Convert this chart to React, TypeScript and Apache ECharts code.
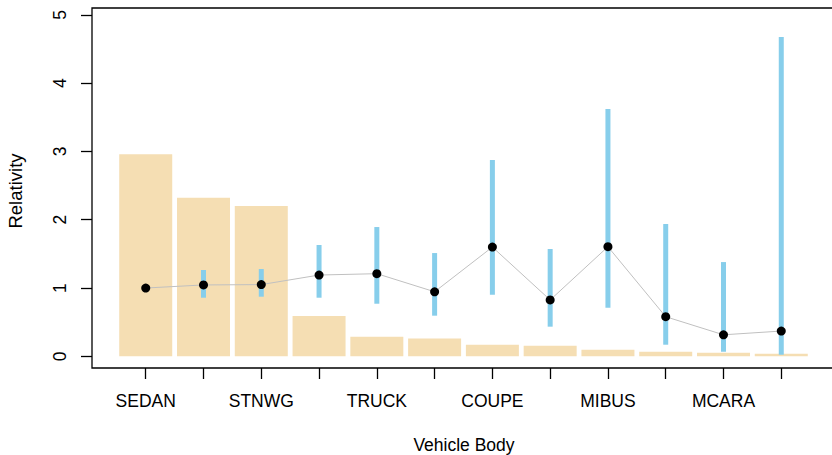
import React, { useEffect, useRef } from "react";
import * as echarts from "echarts";

const categories = ["SEDAN", "HBACK", "STNWG", "UTE", "TRUCK", "HDTOP", "COUPE", "PANVN", "MIBUS", "CONVT", "MCARA", "BUS"];
const exposureBars = [2.96, 2.32, 2.2, 0.59, 0.285, 0.26, 0.17, 0.155, 0.097, 0.067, 0.053, 0.038];
const relativity = [1.0, 1.045, 1.05, 1.19, 1.21, 0.945, 1.6, 0.825, 1.605, 0.58, 0.315, 0.37];
const ciLower = [null, 0.858, 0.873, 0.858, 0.77, 0.595, 0.9, 0.434, 0.712, 0.17, 0.067, 0.023];
const ciUpper = [null, 1.264, 1.278, 1.63, 1.893, 1.512, 2.875, 1.571, 3.62, 1.937, 1.38, 4.675];
const yTicks = [0, 1, 2, 3, 4, 5];
const xTitle = "Vehicle Body";
const yTitle = "Relativity";

const FONT = "Liberation Sans, Arial, Helvetica, sans-serif";

export default function App() {
  const ref = useRef<HTMLDivElement>(null);
  useEffect(() => {
    if (!ref.current) return;
    const chart = echarts.init(ref.current, null, { renderer: "svg" });
    const idx = categories.map((_, i) => i);
    chart.setOption({
      animation: false,
      backgroundColor: "#ffffff",
      grid: {
        left: 92,
        top: 8,
        right: -3,
        bottom: 87,
        containLabel: false,
        outerBoundsMode: "none",
        show: true,
        borderColor: "#000",
        borderWidth: 1.3,
        backgroundColor: "transparent",
      },
      graphic: [
        {
          type: "text",
          x: 464,
          y: 444.8,
          style: { text: xTitle, fontFamily: FONT, fontSize: 17.5, fill: "#000", align: "center", verticalAlign: "middle" },
        },
        {
          type: "text",
          x: 15,
          y: 191,
          rotation: Math.PI / 2,
          style: { text: yTitle, fontFamily: FONT, fontSize: 18.5, fill: "#000", align: "center", verticalAlign: "middle" },
        },
      ],
      xAxis: {
        type: "value",
        min: -0.93,
        max: 11.93,
        axisLine: { show: false, onZero: false },
        splitLine: { show: false },
        axisTick: { show: true, length: 11, lineStyle: { color: "#000", width: 1.3 }, customValues: idx },
        axisLabel: {
          show: true,
          customValues: idx.filter((i) => i % 2 === 0),
          formatter: (v: number) => categories[Math.round(v)] ?? "",
          margin: 24,
          fontFamily: FONT,
          fontSize: 17.5,
          color: "#000",
        },
      },
      yAxis: {
        type: "value",
        min: -0.171,
        max: 5.1,
        axisLine: { show: false, onZero: false },
        splitLine: { show: false },
        axisTick: { show: true, length: 11, lineStyle: { color: "#000", width: 1.3 }, customValues: yTicks },
        axisLabel: {
          show: true,
          customValues: yTicks,
          rotate: 90,
          margin: 23,
          fontFamily: FONT,
          fontSize: 17.5,
          color: "#000",
        },
      },
      series: [
        {
          type: "bar",
          data: exposureBars.map((h, i) => [i, h]),
          barWidth: 53,
          itemStyle: { color: "#F5DEB3" },
          z: 1,
        },
        {
          type: "custom",
          data: idx.filter((i) => ciLower[i] != null).map((i) => [i, ciLower[i], ciUpper[i]]),
          renderItem: (params: any, api: any) => {
            const x = api.value(0);
            const p1 = api.coord([x, api.value(1)]);
            const p2 = api.coord([x, api.value(2)]);
            return {
              type: "line",
              shape: { x1: p1[0], y1: p1[1], x2: p2[0], y2: p2[1] },
              style: { stroke: "#87CEEB", lineWidth: 5 },
            };
          },
          z: 2,
        },
        {
          type: "line",
          data: relativity.map((r, i) => [i, r]),
          symbol: "circle",
          symbolSize: 9,
          lineStyle: { color: "#C0C0C0", width: 1 },
          itemStyle: { color: "#000" },
          z: 3,
        },
      ],
    });
    return () => chart.dispose();
  }, []);
  return <div ref={ref} style={{ width: 832, height: 455, position: "absolute", left: 0, top: 0 }} />;
}
